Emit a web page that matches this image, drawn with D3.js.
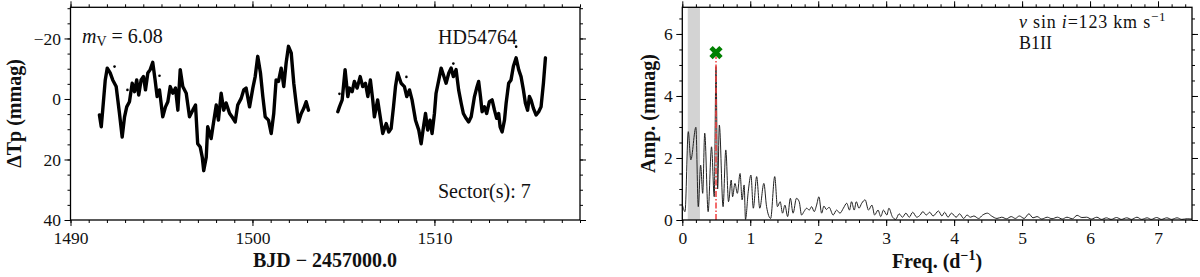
<!DOCTYPE html>
<html><head><meta charset="utf-8">
<script src="https://cdn.jsdelivr.net/npm/d3@7"></script>
<style>
html,body{margin:0;padding:0;background:#fff;}
svg{display:block;}
</style></head>
<body>
<svg id="chart" width="1200" height="277"></svg>
<script>
// ---------- DATA ----------
// Light curve, orbit 1 (BJD-2457000, mmag)
const lcTime1 = [1491.59,1491.69,1491.77,1491.91,1492.02,1492.18,1492.32,1492.51,1492.69,1492.84,1492.97,1493.09,1493.24,1493.39,1493.52,1493.64,1493.75,1493.88,1494.01,1494.12,1494.25,1494.38,1494.52,1494.65,1494.76,1494.89,1495.07,1495.22,1495.35,1495.48,1495.62,1495.77,1495.90,1496.03,1496.17,1496.36,1496.54,1496.72,1496.87,1496.99,1497.13,1497.24,1497.32,1497.46,1497.54,1497.73,1497.83,1498.01,1498.13,1498.28,1498.42,1498.55,1498.74,1498.92,1499.05,1499.19,1499.38,1499.52,1499.65,1499.84,1500.02,1500.15,1500.29,1500.44,1500.57,1500.70,1500.88,1501.03,1501.17,1501.30,1501.43,1501.58,1501.72,1501.85,1501.98,1502.13,1502.27,1502.40,1502.53,1502.68,1502.82,1502.95,1503.08];
const lcMag1 = [5.3,9.2,3.7,-6.3,-10.2,-8.6,-6.3,-4.1,4.7,12.6,5.9,2.6,0.9,-5.2,-2.4,-6.3,-1.3,-6.3,-7.4,-3.0,-8.6,-9.7,-12.1,-6.3,-0.8,-3.0,5.9,2.6,0.9,-4.1,-1.9,-3.6,3.7,-9.7,-4.1,-1.9,5.9,3.7,2.0,14.8,15.9,19.2,23.7,19.2,9.2,13.1,9.0,2.0,7.0,-1.9,3.7,1.3,4.7,6.3,7.6,2.0,-0.2,-3.0,-3.6,2.6,-3.6,-7.4,-14.1,-8.6,-0.8,5.9,7.0,11.4,4.8,-6.3,-5.8,-10.2,-4.1,-11.9,-17.4,-15.2,-5.2,1.4,7.6,4.8,3.1,0.9,3.7];
// Light curve, orbit 2
const lcTime2 = [1504.69,1504.78,1504.93,1505.09,1505.24,1505.33,1505.48,1505.60,1505.75,1505.92,1506.06,1506.21,1506.34,1506.48,1506.61,1506.70,1506.88,1507.02,1507.16,1507.35,1507.49,1507.62,1507.75,1507.86,1507.98,1508.17,1508.35,1508.48,1508.63,1508.77,1508.96,1509.14,1509.27,1509.40,1509.51,1509.63,1509.76,1509.87,1510.00,1510.09,1510.24,1510.37,1510.46,1510.64,1510.79,1510.92,1511.04,1511.19,1511.33,1511.47,1511.59,1511.74,1511.88,1512.02,1512.20,1512.32,1512.43,1512.53,1512.62,1512.75,1512.87,1513.02,1513.17,1513.30,1513.42,1513.53,1513.61,1513.72,1513.85,1513.94,1514.08,1514.21,1514.34,1514.49,1514.63,1514.76,1514.89,1515.00,1515.12,1515.22,1515.31,1515.44,1515.59,1515.73,1515.86,1515.99,1516.10];
const lcMag2 = [4.2,2.6,0.3,-9.7,-0.8,-3.6,-2.4,-5.8,-3.6,-7.4,-4.1,-5.2,-0.8,-6.3,0.3,5.9,0.3,5.9,11.4,8.1,10.9,9.8,2.6,-4.1,-8.6,-5.2,-4.1,-0.8,-3.0,0.3,7.0,10.3,14.8,9.2,4.8,10.3,7.0,11.4,4.8,-1.9,-6.3,-10.2,-8.6,-5.2,-8.6,-10.2,-7.4,-9.7,-3.0,1.4,4.8,6.4,7.6,5.9,-0.8,-3.6,-5.8,-0.8,4.2,2.6,4.8,0.9,0.3,3.7,6.4,4.8,9.2,10.9,7.0,1.4,-5.2,-6.3,-10.8,-13.6,-9.7,-7.4,-3.0,1.4,3.7,-0.8,0.3,3.1,5.3,4.2,2.6,-5.2,-13.6];
// Scattered outlier points
const outTime = [1492.42,1493.13,1494.89,1504.78,1508.46,1511.04,1514.49];
const outMag = [-10.7,-3.0,-7.7,-1.7,-7.3,-11.7,-17.3];

// Amplitude spectrum (d^-1, mmag)
const freq = [0.00,0.04,0.088,0.125,0.20,0.235,0.27,0.30,0.33,0.38,0.43,0.47,0.496,0.52,0.545,0.60,0.64,0.68,0.72,0.74,0.775,0.81,0.85,0.88,0.91,0.93,0.97,1.01,1.045,1.094,1.14,1.20,1.24,1.30,1.36,1.40,1.44,1.475,1.51,1.55,1.59,1.63,1.68,1.72,1.755,1.79,1.83,1.868,1.903,1.941,1.976,2.01,2.05,2.084,2.12,2.16,2.22,2.27,2.32,2.37,2.42,2.46,2.49,2.53,2.56,2.60,2.64,2.69,2.74,2.79,2.83,2.88,2.92,2.96,3.01,3.04,3.09,3.14,3.19,3.24,3.29,3.34,3.39,3.45,3.50,3.54,3.59,3.64,3.69,3.77,3.82,3.86,3.91,3.96,4.03,4.08,4.14,4.19,4.24,4.29,4.36,4.42,4.49,4.55,4.63,4.70,4.77,4.84,4.90,4.96,5.03,5.10,5.16,5.22,5.29,5.37,5.44,5.52,5.59,5.66,5.74,5.81,5.88,5.95,6.02,6.10,6.17,6.24,6.31,6.39,6.46,6.54,6.61,6.69,6.76,6.84,6.90,6.98,7.05,7.13,7.20,7.28,7.35,7.43,7.50];
const amp = [0.50,0.27,2.85,1.94,2.99,0.43,1.77,0.86,2.80,0.27,2.36,0.75,4.95,1.00,3.06,0.43,2.26,0.59,1.29,0.75,1.18,0.86,1.50,0.65,1.13,0.02,0.91,1.45,0.38,1.40,0.38,1.18,0.43,0.05,1.40,0.43,0.59,0.22,0.48,0.11,0.70,0.22,0.70,0.59,0.16,0.27,0.38,0.32,0.43,0.27,0.48,0.75,0.22,0.45,0.34,0.41,0.16,0.32,0.22,0.38,0.54,0.32,0.59,0.32,0.59,0.38,0.54,0.65,0.32,0.48,0.16,0.32,0.11,0.32,0.16,0.38,0.11,0.02,0.20,0.09,0.22,0.09,0.25,0.09,0.16,0.27,0.16,0.25,0.13,0.29,0.13,0.25,0.09,0.22,0.09,0.20,0.05,0.16,0.09,0.13,0.05,0.16,0.22,0.13,0.05,0.09,0.04,0.11,0.05,0.13,0.05,0.20,0.07,0.11,0.03,0.09,0.04,0.09,0.03,0.09,0.04,0.15,0.08,0.09,0.03,0.09,0.02,0.07,0.02,0.08,0.02,0.07,0.02,0.09,0.02,0.07,0.02,0.08,0.02,0.07,0.02,0.07,0.02,0.04,0.03];
const lowFreqBand = [0.08, 0.26];
const domFreq = 0.496;
const domMarkAmp = 5.4;

const lcXTicks = [1490, 1500, 1510];
const lcYTicks = [-20, 0, 20, 40];
const ftXTicks = [0, 1, 2, 3, 4, 5, 6, 7];
const ftYTicks = [0, 2, 4, 6];

// ---------- DRAW ----------
const FONT = "'Liberation Serif', 'Times New Roman', serif";
const svg = d3.select('#chart');

function range(a, b, s) { const r = []; for (let v = a; v <= b + 1e-9; v += s) r.push(+v.toFixed(4)); return r; }

function frameAxes(x, y, xMajor, xMinor, yMajor, yMinor, xFmt, yFmt) {
  const [x0, x1] = x.range();
  const [y0, y1] = y.range(); // y0 bottom, y1 top
  const g = svg.append('g');
  const style = sel => {
    sel.select('.domain').remove();
    sel.selectAll('line').attr('stroke', '#000').attr('stroke-width', 1);
    sel.selectAll('text').attr('font-family', FONT).attr('font-size', 17.5).attr('fill', '#111');
  };
  g.append('g').attr('transform', `translate(0,${y0})`).call(d3.axisBottom(x).tickValues(xMajor).tickSize(6).tickPadding(5.5).tickFormat(xFmt)).call(style);
  g.append('g').attr('transform', `translate(0,${y0})`).call(d3.axisBottom(x).tickValues(xMinor).tickSize(3).tickFormat('')).call(style);
  g.append('g').attr('transform', `translate(0,${y1})`).call(d3.axisTop(x).tickValues(xMajor).tickSize(6).tickFormat('')).call(style);
  g.append('g').attr('transform', `translate(0,${y1})`).call(d3.axisTop(x).tickValues(xMinor).tickSize(3).tickFormat('')).call(style);
  g.append('g').attr('transform', `translate(${x0},0)`).call(d3.axisLeft(y).tickValues(yMajor).tickSize(6).tickPadding(3.5).tickFormat(yFmt)).call(style);
  g.append('g').attr('transform', `translate(${x0},0)`).call(d3.axisLeft(y).tickValues(yMinor).tickSize(3).tickFormat('')).call(style);
  g.append('g').attr('transform', `translate(${x1},0)`).call(d3.axisRight(y).tickValues(yMajor).tickSize(6).tickFormat('')).call(style);
  g.append('g').attr('transform', `translate(${x1},0)`).call(d3.axisRight(y).tickValues(yMinor).tickSize(3).tickFormat('')).call(style);
  g.append('rect').attr('x', x0).attr('y', y1).attr('width', x1 - x0).attr('height', y0 - y1)
    .attr('fill', 'none').attr('stroke', '#000').attr('stroke-width', 1.3);
}

function label(x, y, txt, opts = {}) {
  const t = svg.append('text').attr('x', x).attr('y', y).attr('font-family', FONT)
    .attr('font-size', opts.size || 20).attr('fill', '#111').text(txt);
  if (opts.bold) t.attr('font-weight', 'bold');
  if (opts.anchor) t.attr('text-anchor', opts.anchor);
  if (opts.rotate) t.attr('transform', `rotate(-90,${x},${y})`);
  return t;
}

// ----- Left panel: light curve -----
const xL = d3.scaleLinear().domain([1490, 1518]).range([70.5, 580]);
const yL = d3.scaleLinear().domain([40, -30.3]).range([220, 7.3]);

svg.append('clipPath').attr('id', 'clipL').append('rect')
  .attr('x', 70.5).attr('y', 7.3).attr('width', 580 - 70.5).attr('height', 220 - 7.3);

const lcLine = d3.line().x(d => xL(d[0])).y(d => yL(d[1])).curve(d3.curveLinear);
const gL = svg.append('g').attr('clip-path', 'url(#clipL)');
[[lcTime1, lcMag1], [lcTime2, lcMag2]].forEach(([t, m]) => {
  gL.append('path').datum(t.map((v, i) => [v, m[i]]))
    .attr('d', lcLine).attr('fill', 'none').attr('stroke', '#000')
    .attr('stroke-width', 3.4).attr('stroke-linejoin', 'round').attr('stroke-linecap', 'round');
});
gL.selectAll('circle.out').data(outTime.map((v, i) => [v, outMag[i]])).enter().append('circle')
  .attr('cx', d => xL(d[0])).attr('cy', d => yL(d[1])).attr('r', 1.3).attr('fill', '#000');

frameAxes(xL, yL, lcXTicks, range(1490, 1518, 1), lcYTicks, range(-30, 40, 5), d3.format('d'), d3.format('d'));

// annotations
const mv = svg.append('text').attr('x', 82).attr('y', 43).attr('font-family', FONT).attr('font-size', 20).attr('fill', '#111');
mv.append('tspan').attr('font-style', 'italic').text('m');
mv.append('tspan').attr('font-size', 14).attr('dy', 3).text('V');
mv.append('tspan').attr('dy', -3).text(' = 6.08');
label(438, 44, 'HD54764');
label(438, 198, 'Sector(s): 7');
label(325, 267, 'BJD − 2457000.0', { bold: true, anchor: 'middle' });
label(21, 113.5, 'ΔTp (mmag)', { bold: true, anchor: 'middle', rotate: true });

// ----- Right panel: amplitude spectrum -----
const xR = d3.scaleLinear().domain([0, 7.5]).range([682.3, 1192]);
const yR = d3.scaleLinear().domain([0, 6.86]).range([220, 7.3]);

svg.append('rect').attr('x', xR(lowFreqBand[0])).attr('y', 7.3)
  .attr('width', xR(lowFreqBand[1]) - xR(lowFreqBand[0])).attr('height', 220 - 7.3)
  .attr('fill', '#d3d3d3');

const ftLine = d3.line().x(d => xR(d[0])).y(d => yR(d[1])).curve(d3.curveMonotoneX);
svg.append('path').datum(freq.map((v, i) => [v, amp[i]]))
  .attr('d', ftLine).attr('fill', 'none').attr('stroke', '#222').attr('stroke-width', 1);

svg.append('line').attr('x1', xR(domFreq)).attr('x2', xR(domFreq))
  .attr('y1', yR(0)).attr('y2', yR(domMarkAmp) + 4)
  .attr('stroke', '#f03c3c').attr('stroke-width', 1.5).attr('stroke-dasharray', '6,2,1.5,2');

// green filled X marker
svg.append('path').attr('d', d3.symbol().type(d3.symbolCross).size(110)())
  .attr('transform', `translate(${xR(domFreq)},${yR(domMarkAmp)}) rotate(45)`)
  .attr('fill', '#008000');

frameAxes(xR, yR, ftXTicks, range(0, 7.4, 0.2), ftYTicks, range(0, 6.5, 0.5), d3.format('d'), d3.format('d'));

const vs = svg.append('text').attr('x', 1019).attr('y', 28).attr('font-family', FONT)
  .attr('font-size', 18).attr('letter-spacing', 0.8).attr('fill', '#111');
vs.append('tspan').attr('font-style', 'italic').text('v');
vs.append('tspan').text(' sin ');
vs.append('tspan').attr('font-style', 'italic').text('i');
vs.append('tspan').text('=123 km s');
vs.append('tspan').attr('font-size', 13).attr('dy', -7).text('−1');
label(1019, 49, 'B1II', { size: 18 });

const fl = svg.append('text').attr('x', 937).attr('y', 268).attr('text-anchor', 'middle')
  .attr('font-family', FONT).attr('font-size', 20).attr('font-weight', 'bold').attr('fill', '#111');
fl.append('tspan').text('Freq. (d');
fl.append('tspan').attr('font-size', 14).attr('dy', -8).text('−1');
fl.append('tspan').attr('dy', 8).text(')');
label(655, 113.5, 'Amp. (mmag)', { bold: true, anchor: 'middle', rotate: true });
</script>
</body></html>
